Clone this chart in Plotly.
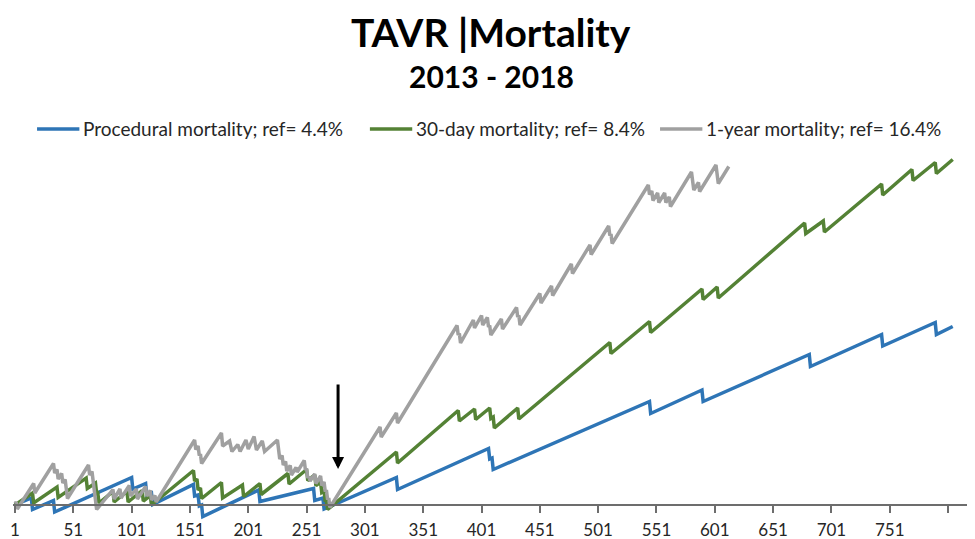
import plotly.graph_objects as go

# VLAD-style cumulative curves (case number, net value)
proc_case = [1, 15, 16, 34, 35, 101, 102, 113, 114, 118, 119, 154, 155, 158, 159, 161, 162,
             210, 211, 257, 258, 265, 266, 328, 329, 407, 408, 410, 411, 545, 546,
             590, 591, 682, 683, 744, 745, 790, 791, 805]
proc_val = [0.0, 0.7, -0.45, 0.45, -0.7, 2.75, 1.6, 2.15, 1.0, 1.2, 0.05, 2.05, 0.9, 1.0, -0.1, 0.0, -1.15,
            1.5, 0.35, 1.65, 0.45, 0.7, -0.4, 2.75, 1.55, 5.65, 4.6, 4.7, 3.55, 10.35, 9.15,
            11.5, 10.35, 15.05, 13.85, 17.05, 15.9, 18.25, 17.05, 17.85]

d30_case = [1, 16, 17, 37, 38, 62, 63, 70, 71, 72, 73, 85, 86, 97, 98, 110, 111, 117, 118,
            154, 155, 157, 158, 160, 161, 178, 179, 196, 197, 211, 212, 235, 236, 251, 252, 258, 259,
            263, 264, 266, 267, 268, 269, 328, 329, 381, 382, 395, 396, 408, 409, 411, 412, 432, 433,
            511, 512, 545, 546, 590, 591, 603, 604, 678, 679, 694, 695, 744, 745, 770, 771, 790, 791, 805]
d30_val = [0.0, 1.2, 0.2, 1.8, 0.75, 2.7, 1.65, 2.2, 1.15, 1.2, 0.2, 1.35, 0.3, 1.35, 0.3, 1.45, 0.4, 0.95, 0.0,
           3.45, 2.4, 2.6, 1.5, 1.7, 0.65, 2.25, 0.7, 2.0, 0.85, 2.15, 1.05, 3.15, 2.1, 3.55, 2.45, 3.0, 1.95,
           2.3, 1.25, 1.4, 0.35, 0.45, -0.45, 5.3, 4.2, 9.45, 8.4, 9.6, 8.55, 9.7, 8.65, 8.8, 7.7, 9.7, 8.6,
           16.25, 15.15, 18.35, 17.25, 21.6, 20.55, 21.8, 20.7, 28.2, 27.15, 28.4, 27.3, 32.1, 31.0, 33.55, 32.45,
           34.25, 33.15, 34.55]

y1_case = [1, 2, 3, 17, 18, 34, 35, 37, 38, 41, 42, 44, 45, 46, 64, 65, 67, 68, 69, 70, 71,
           85, 86, 91, 92, 99, 100, 105, 106, 113, 114, 117, 118, 121, 122, 155, 156, 158, 159, 160, 161,
           178, 179, 185, 187, 192, 194, 199, 201, 206, 208, 213, 215, 226, 227, 228, 230, 231, 233, 234,
           237, 238, 242, 243, 249, 250, 251, 252, 253, 254, 258, 259, 263, 264, 266, 267, 268, 269, 270, 271,
           314, 315, 328, 329, 380, 381, 382, 383, 394, 395, 401, 402, 406, 407, 408, 409, 418, 419,
           431, 432, 433, 434, 451, 452, 461, 462, 478, 479, 494, 495, 510, 511, 512, 513, 544, 545,
           547, 548, 552, 553, 558, 559, 562, 563, 581, 582, 583, 587, 588, 602, 603, 604, 613]
y1_val = [0.15, 0.3, -0.4, 2.15, 1.2, 4.15, 3.2, 3.55, 2.6, 3.15, 2.2, 2.55, 1.6, 0.65, 4.0, 3.0, 3.35, 2.4, 1.45, 0.5, -0.45,
          1.55, 0.6, 1.6, 0.7, 1.95, 0.9, 1.6, 0.6, 1.85, 0.9, 1.45, 0.5, 0.95, 0.3, 6.5, 5.55, 5.9, 4.95, 5.1, 4.15,
          7.2, 5.9, 6.4, 5.35, 6.05, 5.35, 6.5, 5.6, 6.85, 5.5, 6.4, 5.35, 6.5, 5.55, 4.6, 4.95, 4.0, 4.35, 3.4,
          3.95, 3.0, 3.75, 3.3, 4.45, 3.5, 3.65, 2.7, 2.85, 2.4, 3.1, 2.15, 2.9, 1.95, 2.3, 1.35, 1.5, 0.55, 0.7, -0.25,
          7.8, 6.8, 9.2, 8.2, 17.95, 17.0, 17.15, 16.2, 18.5, 17.7, 18.95, 18.0, 18.75, 17.8, 17.95, 17.0, 18.6, 17.6,
          19.75, 18.8, 18.95, 18.0, 21.15, 20.2, 21.9, 20.95, 24.1, 23.15, 26.0, 25.05, 27.9, 26.95, 27.1, 26.15, 32.0, 31.05,
          31.4, 30.45, 31.2, 30.25, 31.2, 30.25, 30.8, 29.85, 33.3, 32.35, 31.5, 32.25, 31.35, 34.0, 33.05, 32.15, 33.85]

tick_cases = [1, 51, 101, 151, 201, 251, 301, 351, 401, 451, 501, 551, 601, 651, 701, 751, 801]
tick_text = ['1', '51', '101', '151', '201', '251', '301', '351', '401', '451', '501', '551', '601',
             '651', '701', '751', '']

series_names = ['Procedural mortality; ref= 4.4%', '30-day mortality; ref= 8.4%', '1-year mortality; ref= 16.4%']
series_colors = ['#2E75B6', '#548235', '#A0A0A0']

arrow_case = 278

FONT = 'Lato'
TXT = '#262626'

fig = go.Figure()
for xs, ys, name, col in zip([proc_case, d30_case, y1_case], [proc_val, d30_val, y1_val],
                             series_names, series_colors):
    fig.add_trace(go.Scatter(x=xs, y=ys, mode='lines', name=name, showlegend=False,
                             line=dict(color=col, width=3.5)))

# legend drawn by hand so swatch and text sit like the Excel original
legend_x = [0.025, 0.371, 0.6726]
for lx, name, col in zip(legend_x, series_names, series_colors):
    fig.add_shape(type='line', xref='paper', yref='paper', x0=lx, x1=lx + 0.044, y0=1.0427, y1=1.0427,
                  line=dict(color=col, width=3.5))
    fig.add_annotation(text=name, xref='paper', yref='paper', x=lx + 0.0455, y=1.0427,
                       xanchor='left', yanchor='middle', showarrow=False,
                       font=dict(family=FONT, size=19, color=TXT))

# arrow marking the change point
fig.add_annotation(x=arrow_case, y=3.6, ax=0, ay=-86, text='', showarrow=True,
                   arrowhead=2, arrowsize=0.8, arrowwidth=3, arrowcolor='black', standoff=0)

# subtitle
fig.add_annotation(text='<b>2013 - 2018</b>', xref='paper', yref='paper', x=0.497, y=1.184,
                   xanchor='center', yanchor='middle', showarrow=False,
                   font=dict(family=FONT, size=30, color='black'))

# the page adds an 8px body margin, so the plot box is set 8px up/left of the target
fig.update_layout(
    width=975, height=539,
    margin=dict(l=5, r=8, t=137, b=27),
    paper_bgcolor='white', plot_bgcolor='white',
    showlegend=False,
    title=dict(text='<b>TAVR |Mortality</b>', x=0.495, xanchor='center', y=0.9536, yanchor='middle',
               font=dict(family=FONT, size=39, color='black')),
    xaxis=dict(range=[-0.715, 824.1], anchor='free', position=0.04, automargin=False,
               tickmode='array', tickvals=tick_cases, ticktext=tick_text,
               showline=True, linecolor='#6d6d6d', linewidth=2,
               ticks='outside', ticklen=7, tickwidth=2, tickcolor='#6d6d6d',
               ticklabelstandoff=3,
               showgrid=False, zeroline=False,
               tickfont=dict(family=FONT, size=17, color=TXT)),
    yaxis=dict(range=[-1.5, 36], visible=False, showgrid=False, zeroline=False, automargin=False),
)

fig.write_html("out.html")
